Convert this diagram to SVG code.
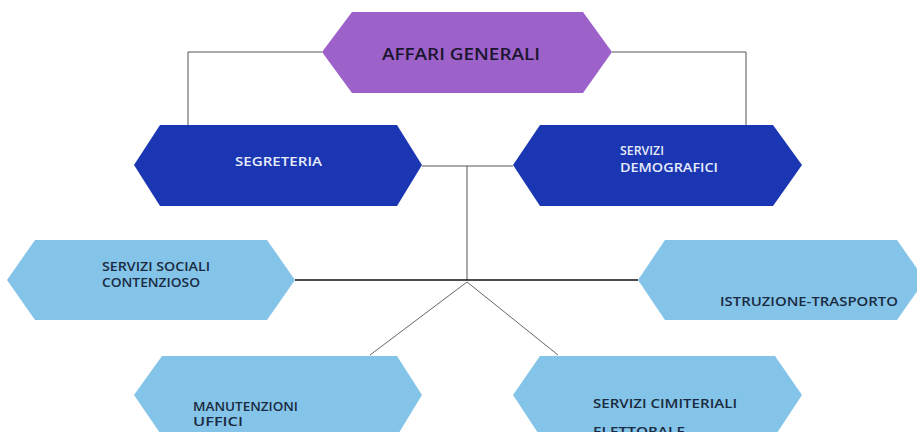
<svg xmlns="http://www.w3.org/2000/svg" width="917" height="432" viewBox="0 0 917 432">
<style>
.purple{fill:#9d62ca}
.dark{fill:#1b36b2}
.light{fill:#84c4e9}
.t{font-family:"Open Sans","DejaVu Sans",sans-serif;font-weight:600}
.tp{fill:#1c1530;font-size:16px}
.tw{fill:#e6ecfa;font-size:13px}
.tl{fill:#1a2a40;font-size:12px}
.gray{stroke:#555;stroke-width:1;fill:none}
.black{stroke:#111;stroke-width:1.6;fill:none}
.diag{stroke:#666;stroke-width:1;fill:none}
</style>
<rect width="917" height="432" fill="#ffffff"/>
<g id="connectors">
<polyline class="gray" points="322,52 188,52 188,125"/>
<polyline class="gray" points="612,52 746,52 746,125"/>
<line class="gray" x1="422" y1="166" x2="513" y2="166"/>
<line class="gray" x1="467" y1="166" x2="467" y2="280"/>
<line class="black" x1="295" y1="280" x2="638" y2="280"/>
<line class="diag" x1="467" y1="282" x2="370" y2="355"/>
<line class="diag" x1="467" y1="282" x2="558" y2="355"/>
</g>
<g id="affari-generali">
<polygon class="purple" points="352,12 583,12 612,52 583,93 352,93 322,52"/>
<text class="t tp" x="382" y="60" textLength="158" lengthAdjust="spacingAndGlyphs">AFFARI GENERALI</text>
</g>
<g id="segreteria">
<polygon class="dark" points="160,125 397,125 422,165 397,206 160,206 134,165"/>
<text class="t tw" x="235" y="166" textLength="87" lengthAdjust="spacingAndGlyphs">SEGRETERIA</text>
</g>
<g id="servizi-demografici">
<polygon class="dark" points="540,125 773,125 802,165 773,206 540,206 513,165"/>
<text class="t tw" x="620" y="155" font-size="11.5" textLength="44" lengthAdjust="spacingAndGlyphs">SERVIZI</text>
<text class="t tw" x="620" y="172" font-size="11.5" textLength="98" lengthAdjust="spacingAndGlyphs">DEMOGRAFICI</text>
</g>
<g id="servizi-sociali">
<polygon class="light" points="35,240 267,240 295,280 267,320 35,320 7,280"/>
<text class="t tl" x="102" y="271" font-size="11.5" textLength="108" lengthAdjust="spacingAndGlyphs">SERVIZI SOCIALI</text>
<text class="t tl" x="102" y="287" font-size="11.5" textLength="98" lengthAdjust="spacingAndGlyphs">CONTENZIOSO</text>
</g>
<g id="istruzione-trasporto">
<polygon class="light" points="665,240 897,240 925,280 897,320 665,320 638,280"/>
<text class="t tl" x="720" y="306" textLength="178" lengthAdjust="spacingAndGlyphs">ISTRUZIONE-TRASPORTO</text>
</g>
<g id="manutenzioni-uffici">
<polygon class="light" points="162,356 397,356 422,395 397,436 162,436 134,395"/>
<text class="t tl" x="193" y="411" font-size="10.5" textLength="105" lengthAdjust="spacingAndGlyphs">MANUTENZIONI</text>
<text class="t tl" x="193" y="426" font-size="10.5" textLength="50" lengthAdjust="spacingAndGlyphs">UFFICI</text>
</g>
<g id="servizi-cimiteriali">
<polygon class="light" points="540,356 775,356 802,395 775,436 540,436 513,395"/>
<text class="t tl" x="593" y="408" font-size="14" textLength="144" lengthAdjust="spacingAndGlyphs">SERVIZI CIMITERIALI</text>
<text class="t tl" x="593" y="436" font-size="14" textLength="92" lengthAdjust="spacingAndGlyphs">ELETTORALE</text>
</g>
</svg>
